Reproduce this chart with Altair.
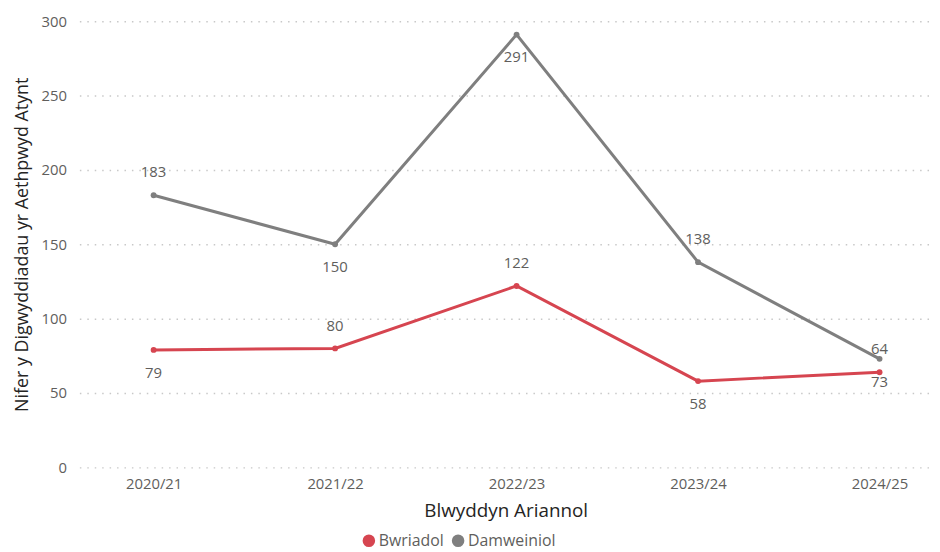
import altair as alt
import pandas as pd

years = ["2020/21", "2021/22", "2022/23", "2023/24", "2024/25"]
series_names = ["Bwriadol", "Damweiniol"]
bwriadol = [79, 80, 122, 58, 64]
damweiniol = [183, 150, 291, 138, 73]
bwriadol_label_pos = ["below", "above", "above", "below", "above"]
damweiniol_label_pos = ["above", "below", "below", "above", "below"]
colors = ["#D64550", "#7F7F7F"]

rows = []
for i, y in enumerate(years):
    rows.append({"year": y, "series": series_names[0], "value": bwriadol[i], "pos": bwriadol_label_pos[i]})
    rows.append({"year": y, "series": series_names[1], "value": damweiniol[i], "pos": damweiniol_label_pos[i]})
df = pd.DataFrame(rows)

FONT = "Open Sans"

x = alt.X("year:N", sort=years, title="Blwyddyn Ariannol",
          scale=alt.Scale(type="point", padding=0.349, align=0.586),
          axis=alt.Axis(labelAngle=0, domain=False, ticks=False, grid=False,
                        labelFontSize=15, labelColor="#605E5C", labelPadding=9,
                        titleFontSize=19, titleColor="#252423", titleFontWeight="normal",
                        titlePadding=11, labelFont=FONT, titleFont=FONT))
y = alt.Y("value:Q", title="Nifer y Digwyddiadau yr Aethpwyd Atynt",
          scale=alt.Scale(domain=[0, 300], nice=False),
          axis=alt.Axis(values=[0, 50, 100, 150, 200, 250, 300], domain=False, ticks=False,
                        grid=True, gridDash=[1.5, 6], gridColor="#C8C8C8", gridWidth=1.5,
                        labelFontSize=15, labelColor="#605E5C", labelPadding=13,
                        titleFontSize=18, titleColor="#252423", titleFontWeight="normal",
                        titlePadding=10, labelFont=FONT, titleFont=FONT))
color = alt.Color("series:N", scale=alt.Scale(domain=series_names, range=colors),
                  legend=alt.Legend(title=None, orient="none", direction="horizontal",
                                    legendX=284, legendY=516, symbolType="circle",
                                    symbolSize=160, symbolOpacity=1, labelFontSize=16,
                                    labelColor="#605E5C", labelFont=FONT, columnPadding=6,
                                    symbolStrokeWidth=0, labelOffset=2))

base = alt.Chart(df)
lines = base.mark_line(strokeWidth=3).encode(x=x, y=y, color=color)
points = base.mark_point(filled=True, size=35, opacity=1).encode(
    x=x, y=y, color=alt.Color("series:N", scale=alt.Scale(domain=series_names, range=colors), legend=None))
lab_above = base.transform_filter(alt.datum.pos == "above").mark_text(
    dy=-23, fontSize=15, color="#605E5C", font=FONT).encode(x=x, y=y, text="value:Q")
lab_below = base.transform_filter(alt.datum.pos == "below").mark_text(
    dy=23, fontSize=15, color="#605E5C", font=FONT).encode(x=x, y=y, text="value:Q")

chart = alt.layer(lines, points, lab_above, lab_below).properties(
    width=860, height=450,
    autosize=alt.AutoSizeParams(type="none"),
    padding={"left": 72, "top": 11, "right": 0, "bottom": 82},
).configure_view(stroke=None)

chart.save("out.html", embed_options={"renderer": "svg", "actions": False})
